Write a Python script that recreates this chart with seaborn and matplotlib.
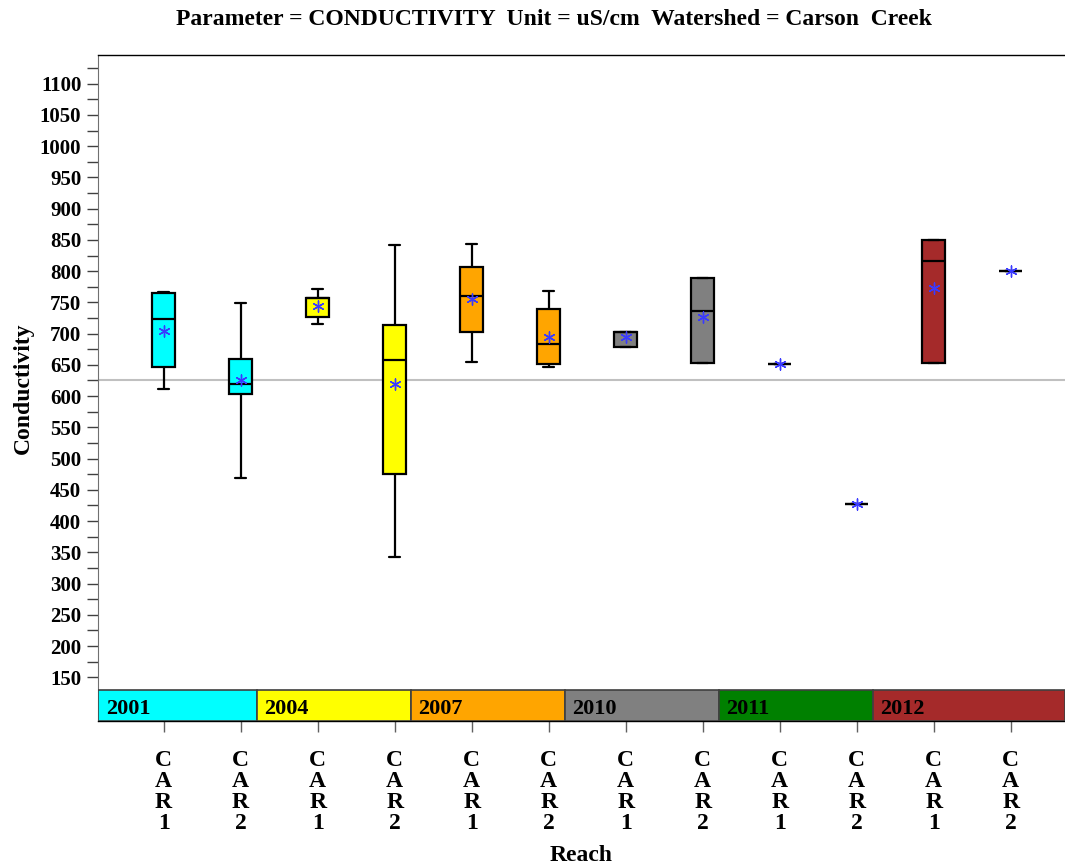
import numpy as np
import pandas as pd
import matplotlib.pyplot as plt
import seaborn as sns

sns.set_style("white")
plt.rcParams['font.family'] = ['Liberation Serif', 'DejaVu Serif']
plt.rcParams['font.weight'] = 'bold'
plt.rcParams['text.color'] = 'black'
plt.rcParams['axes.labelcolor'] = 'black'
plt.rcParams['xtick.color'] = 'black'
plt.rcParams['ytick.color'] = 'black'

# Data (five-number summaries, means)
years = ["2001", "2001", "2004", "2004", "2007", "2007",
         "2010", "2010", "2011", "2011", "2012", "2012"]
reaches = ["CAR1", "CAR2"] * 6
lo_whisker = [611, 469, 716, 343, 655, 647, 679, 653, 652, 428, 653, 800]
q1 = [647, 603, 726, 475, 703, 651, 679, 653, 652, 428, 653, 800]
median = [723, 619, 757, 658, 760, 684, 703, 736, 652, 428, 816, 800]
q3 = [765, 659, 757, 714, 807, 740, 703, 789, 652, 428, 850, 800]
hi_whisker = [766, 749, 772, 842, 844, 768, 703, 789, 652, 428, 850, 800]
means = [705, 625, 745, 619, 756, 695, 694, 726, 652, 428, 773, 800]
overall_mean = 626

year_order = ["2001", "2004", "2007", "2010", "2011", "2012"]
year_colors = {"2001": "#00FFFF", "2004": "#FFFF00", "2007": "#FFA500",
               "2010": "#808080", "2011": "#008000", "2012": "#A52A2A"}

keys = [f"{y} {r}" for y, r in zip(years, reaches)]
rows = []
for k, y, a, b, c, d, e in zip(keys, years, lo_whisker, q1, median, q3, hi_whisker):
    for v in (a, b, c, d, e):
        rows.append({"key": k, "Year": y, "value": v})
df = pd.DataFrame(rows)

fig = plt.figure(figsize=(10.65, 8.67), dpi=100)
ax = fig.add_axes([0.092, 0.1684, 0.908, 0.7682])

ax.axhline(overall_mean, color="#c0c0c0", lw=1.5, zorder=0)

sns.boxplot(data=df, x="key", y="value", hue="Year", palette=year_colors,
            dodge=False, width=0.3, whis=(0, 100), saturation=1,
            linecolor="black", linewidth=1.6, legend=False, ax=ax,
            order=keys, hue_order=year_order)

sns.stripplot(x=keys, y=means, order=keys, jitter=False, marker=(6, 2, 0),
              color="#3a3aff", edgecolor="#3a3aff", linewidth=1.0, size=8,
              ax=ax, zorder=5)

ylo, yhi = 80, 1146
band_top = 130
ax.set_ylim(ylo, yhi)
xleft, xright = -0.853, 11.705
ax.set_xlim(xleft, xright)

# year band at the bottom of the plot
frac = (band_top - ylo) / (yhi - ylo)
for i, yr in enumerate(year_order):
    x0 = xleft if i == 0 else 2 * i - 0.79
    x1 = xright if i == len(year_order) - 1 else 2 * (i + 1) - 0.79
    ax.axvspan(x0, x1, ymin=0, ymax=frac, facecolor=year_colors[yr],
               edgecolor="#404040", lw=1.2, zorder=3)
    ax.text(x0 + 0.1, (ylo + band_top) / 2 - 6, yr, fontsize=16,
            fontweight="bold", va="center", ha="left", zorder=4)

ax.set_yticks(np.arange(150, 1101, 50))
ax.set_yticks(np.arange(175, 1126, 50), minor=True)
ax.tick_params(axis="y", which="both", left=True, length=8, width=1,
               color="#404040", labelsize=15, pad=4)
ax.set_xticks(range(len(keys)))
ax.set_xticklabels(["\n".join(r) for r in reaches], fontsize=17,
                   fontweight="bold", linespacing=1.0)
ax.tick_params(axis="x", bottom=True, length=8, width=1, color="#606060", pad=13)
for lab in ax.get_yticklabels():
    lab.set_fontweight("bold")

for s in ["top", "bottom"]:
    ax.spines[s].set_color("black")
    ax.spines[s].set_linewidth(1)
ax.spines["left"].set_color("#707070")
ax.spines["right"].set_visible(False)

ax.set_xlabel("Reach", fontsize=17, fontweight="bold", labelpad=8)
ax.set_ylabel("Conductivity", fontsize=17, fontweight="bold", labelpad=4)
fig.suptitle("Parameter = CONDUCTIVITY  Unit = uS/cm  Watershed = Carson  Creek",
             x=0.52, y=0.99, fontsize=17, fontweight="bold")

fig.savefig("out.png", dpi=100)
